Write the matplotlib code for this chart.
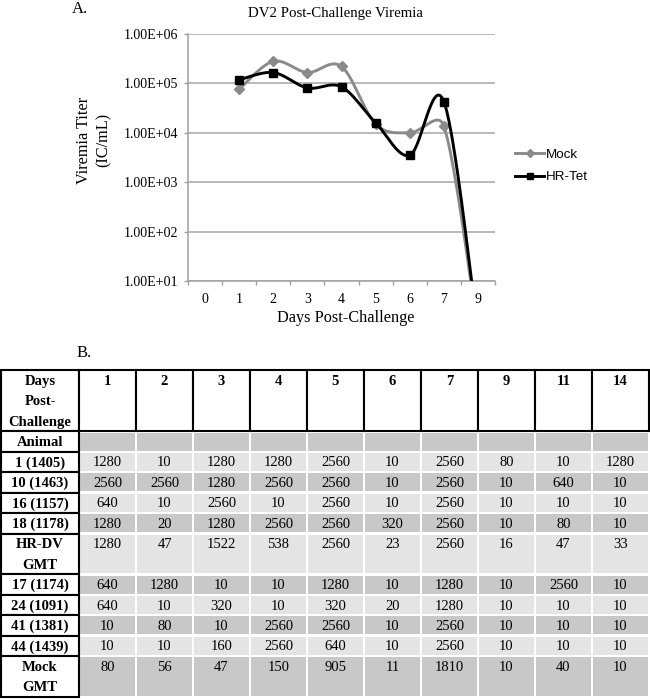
import numpy as np
import matplotlib
matplotlib.use("Agg")
import matplotlib.pyplot as plt
from matplotlib.patches import Rectangle
from matplotlib.lines import Line2D

# ---------------- data ----------------
day_labels = ['0', '1', '2', '3', '4', '5', '6', '7', '9']
mock_vals = [np.nan, 7.6e4, 2.8e5, 1.66e5, 2.2e5, 1.5e4, 1.0e4, 1.38e4, 1.0]
hrtet_vals = [np.nan, 1.18e5, 1.66e5, 8.1e4, 8.5e4, 1.6e4, 3.5e3, 4.3e4, 1.0]
y_ticks = [1e1, 1e2, 1e3, 1e4, 1e5, 1e6]
y_ticklabels = ['1.00E+01', '1.00E+02', '1.00E+03', '1.00E+04', '1.00E+05', '1.00E+06']

table_days = ['1', '2', '3', '4', '5', '6', '7', '9', '11', '14']
row_labels = ['Animal', '1 (1405)', '10 (1463)', '16 (1157)', '18 (1178)', 'HR-DV\nGMT',
              '17 (1174)', '24 (1091)', '41 (1381)', '44 (1439)', 'Mock\nGMT']
row_values = [
    [''] * 10,
    ['1280', '10', '1280', '1280', '2560', '10', '2560', '80', '10', '1280'],
    ['2560', '2560', '1280', '2560', '2560', '10', '2560', '10', '640', '10'],
    ['640', '10', '2560', '10', '2560', '10', '2560', '10', '10', '10'],
    ['1280', '20', '1280', '2560', '2560', '320', '2560', '10', '80', '10'],
    ['1280', '47', '1522', '538', '2560', '23', '2560', '16', '47', '33'],
    ['640', '1280', '10', '10', '1280', '10', '1280', '10', '2560', '10'],
    ['640', '10', '320', '10', '320', '20', '1280', '10', '10', '10'],
    ['10', '80', '10', '2560', '2560', '10', '2560', '10', '10', '10'],
    ['10', '10', '160', '2560', '640', '10', '2560', '10', '10', '10'],
    ['80', '56', '47', '150', '905', '11', '1810', '10', '40', '10'],
]

W, H = 650, 699
fig = plt.figure(figsize=(W / 100, H / 100), dpi=100)
serif = ['Liberation Serif', 'DejaVu Serif']
sans = ['Liberation Sans', 'DejaVu Sans']

def fx(px):
    return px / W

def fy(py):
    return 1 - py / H

# ---------------- chart ----------------
L, R, T, B = 188, 495, 34, 281
ax = fig.add_axes([fx(L), fy(B), fx(R - L), (B - T) / H])
ax.set_yscale('log')
ax.set_ylim(1e1, 1e6)
ax.set_xlim(-0.5, len(day_labels) - 0.5)

# pixel size of one category / one decade (for Excel-like smoothing in screen space)
sx = (R - L) / len(day_labels)
sy = (B - T) / 5.0


def smooth(xs, ys, n=60, f=1 / 6):
    pts = [np.array([x * sx, np.log10(y) * sy]) for x, y in zip(xs, ys) if not np.isnan(y)]
    out = []
    for i in range(len(pts) - 1):
        p0 = pts[i - 1] if i > 0 else pts[i]
        p1 = pts[i]
        p2 = pts[i + 1]
        p3 = pts[i + 2] if i + 2 < len(pts) else pts[i + 1]
        d12 = np.linalg.norm(p2 - p1)
        v1 = f * (p2 - p0)
        v2 = f * (p3 - p1)
        if np.linalg.norm(v1) > d12 / 2:
            v1 = v1 * (d12 / 2) / np.linalg.norm(v1)
        if np.linalg.norm(v2) > d12 / 2:
            v2 = v2 * (d12 / 2) / np.linalg.norm(v2)
        c1 = p1 + v1
        c2 = p2 - v2
        t = np.linspace(0, 1, n)[:, None]
        seg = (1 - t) ** 3 * p1 + 3 * (1 - t) ** 2 * t * c1 + 3 * (1 - t) * t ** 2 * c2 + t ** 3 * p2
        out.append(seg)
    out = np.vstack(out)
    return out[:, 0] / sx, 10 ** (out[:, 1] / sy)


xi = np.arange(len(day_labels))
mock_color = '#8a8a8a'
for vals, color, marker, ms, z in [(mock_vals, mock_color, 'D', 5.0, 3),
                                   (hrtet_vals, 'black', 's', 5.5, 4)]:
    cx, cy = smooth(xi, vals)
    ax.plot(cx, cy, color=color, lw=2.1, zorder=z, solid_capstyle='round')
    ax.plot(xi, vals, linestyle='none', marker=marker, ms=ms, color=color, zorder=z)

ax.set_yticks(y_ticks)
ax.set_yticklabels(y_ticklabels, fontfamily=serif, fontsize=10)
ax.yaxis.set_minor_locator(matplotlib.ticker.NullLocator())
ax.set_xticks(xi)
ax.set_xticklabels(day_labels, fontfamily=serif, fontsize=10)
ax.set_xticks(np.arange(-0.5, len(day_labels)), minor=True)
ax.tick_params(axis='x', which='major', length=0, pad=8.5)
ax.tick_params(axis='x', which='minor', length=3, width=1, color='#a0a0a0', direction='out')
ax.tick_params(axis='y', which='major', length=3, width=1, color='#a0a0a0', direction='out', pad=4)
ax.grid(axis='y', which='major', color='#a6a6a6', lw=1.1)
ax.set_axisbelow(True)
for s in ['top', 'right']:
    ax.spines[s].set_visible(False)
for s in ['left', 'bottom']:
    ax.spines[s].set_color('#a0a0a0')
    ax.spines[s].set_linewidth(1.1)

fig.text(fx(335), fy(14), 'DV2 Post-Challenge Viremia', ha='center', va='center',
         fontfamily=serif, fontsize=10.7)
fig.text(fx(346), fy(318), 'Days Post-Challenge', ha='center', va='center',
         fontfamily=serif, fontsize=11.7)
fig.text(fx(94), fy(140), 'Viremia Titer\n(IC/mL)', ha='center', va='center',
         rotation=90, fontfamily=serif, fontsize=11.7, linespacing=1.3)
fig.text(fx(72), fy(9), 'A.', ha='left', va='center', fontfamily=serif, fontsize=12)
fig.text(fx(77), fy(353), 'B.', ha='left', va='center', fontfamily=serif, fontsize=12)

handles = [Line2D([], [], color=mock_color, lw=2.1, marker='D', ms=4.5),
           Line2D([], [], color='black', lw=2.1, marker='s', ms=5)]
fig.legend(handles, ['Mock', 'HR-Tet'], loc='center left',
           bbox_to_anchor=(fx(515), fy(166)), frameon=False,
           prop={'family': sans, 'size': 9.6}, handlelength=2.2,
           handletextpad=0.15, labelspacing=0.75, borderaxespad=0, borderpad=0)

# ---------------- table ----------------
tax = fig.add_axes([0, 0, 1, 1])
tax.set_xlim(0, W)
tax.set_ylim(H, 0)
tax.axis('off')

tbl_left, first_w, col_w = 1, 78, 57
tbl_top, tbl_bottom = 370, 697
units = [3] + [2 if '\n' in r else 1 for r in row_labels]
unit = (tbl_bottom - tbl_top) / sum(units)
dark, light = '#c8c8c8', '#e4e4e4'
fs_tbl = 10.5

# header row
y = tbl_top
h = units[0] * unit
tax.add_patch(Rectangle((tbl_left, y), first_w, h, fc='white', ec='black', lw=1.5, zorder=3))
for k, line in enumerate(['Days', 'Post-', 'Challenge']):
    tax.text(tbl_left + first_w / 2, y + (k + 0.5) * unit + 1, line, ha='center', va='center',
             fontfamily=serif, fontsize=fs_tbl, fontweight='bold', zorder=5)
for j, d in enumerate(table_days):
    x = tbl_left + first_w + j * col_w
    tax.add_patch(Rectangle((x, y), col_w, h, fc='white', ec='black', lw=1.5, zorder=3))
    tax.text(x + col_w / 2, y + 0.5 * unit + 1, d, ha='center', va='center',
             fontfamily=serif, fontsize=fs_tbl, fontweight='bold', zorder=5)
y += h

for i, (lab, vals) in enumerate(zip(row_labels, row_values)):
    h = units[i + 1] * unit
    color = dark if i % 2 == 0 else light
    tax.add_patch(Rectangle((tbl_left, y), first_w, h, fc='white', ec='black', lw=1.5, zorder=3))
    for k, line in enumerate(lab.split('\n')):
        tax.text(tbl_left + first_w / 2, y + (k + 0.5) * unit + 1, line, ha='center', va='center',
                 fontfamily=serif, fontsize=fs_tbl, fontweight='bold', zorder=5)
    for j, v in enumerate(vals):
        x = tbl_left + first_w + j * col_w
        tax.add_patch(Rectangle((x + 1.2, y + 1.2), col_w - 2.4, h - 2.4, fc=color, ec='none', zorder=2))
        tax.text(x + col_w / 2, y + 0.5 * unit + 1, v, ha='center', va='center',
                 fontfamily=serif, fontsize=fs_tbl, zorder=5)
    y += h

fig.savefig('out.png', dpi=100)
